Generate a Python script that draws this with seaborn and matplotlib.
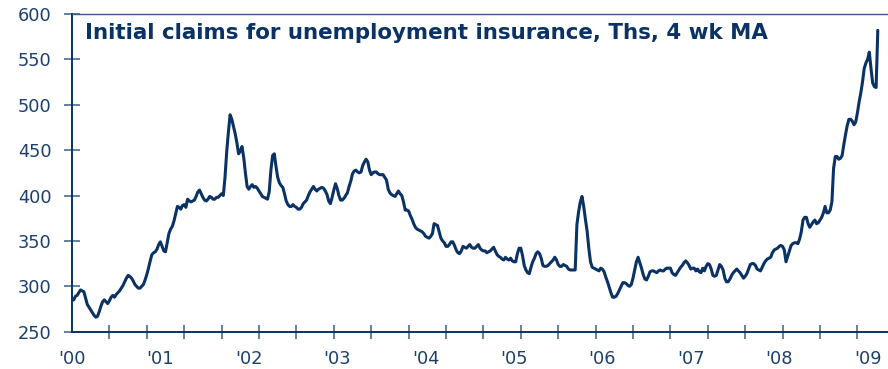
import numpy as np
import pandas as pd
import seaborn as sns
import matplotlib.pyplot as plt
from matplotlib.ticker import FixedLocator

# Initial jobless claims, thousands, 4-week moving average, weekly from Jan 2000
y2000 = [285, 285, 289, 290, 293, 296, 295, 294, 287, 280, 277, 274, 271,
         268, 266, 267, 272, 278, 283, 285, 283, 281, 284, 288, 290, 288,
         291, 293, 295, 298, 301, 305, 309, 312, 311, 309, 306, 302, 300,
         298, 298, 300, 302, 307, 313, 320, 328, 335, 337, 338, 341, 346]
y2001 = [349, 344, 339, 338, 348, 358, 363, 366, 372, 380, 388, 387, 385,
         389, 390, 387, 396, 394, 393, 394, 395, 399, 404, 406, 402, 398,
         395, 394, 396, 399, 398, 396, 396, 398, 398, 400, 402, 400, 420,
         448, 470, 489, 484, 476, 468, 458, 446, 449, 454, 442, 425, 410]
y2002 = [407, 410, 412, 409, 410, 408, 405, 402, 399, 398, 397, 396, 404,
         428, 444, 446, 432, 420, 414, 411, 409, 402, 394, 390, 388, 388,
         390, 388, 387, 385, 385, 387, 391, 393, 395, 400, 404, 407, 410,
         407, 405, 407, 408, 409, 408, 405, 401, 394, 391, 398, 406, 413]
y2003 = [408, 400, 395, 395, 397, 400, 403, 410, 416, 424, 427, 428, 426,
         425, 426, 433, 437, 440, 437, 428, 423, 425, 426, 426, 424, 423,
         423, 423, 420, 417, 407, 403, 401, 400, 399, 402, 405, 402, 400,
         393, 384, 384, 383, 378, 374, 369, 365, 363, 362, 361, 360, 358]
y2004 = [355, 354, 353, 355, 358, 369, 368, 367, 360, 353, 350, 348, 344,
         344, 346, 349, 349, 345, 340, 337, 336, 339, 344, 343, 342, 344,
         346, 343, 342, 342, 344, 346, 342, 340, 339, 339, 337, 338, 339,
         341, 343, 339, 335, 333, 332, 330, 329, 332, 330, 329, 331, 328]
y2005 = [327, 327, 336, 342, 342, 334, 323, 318, 315, 314, 321, 327, 331,
         336, 338, 336, 331, 323, 322, 322, 323, 325, 327, 329, 332, 329,
         324, 322, 322, 324, 323, 322, 319, 318, 318, 318, 318, 368, 382,
         393, 399, 388, 374, 361, 342, 327, 321, 320, 319, 318, 317, 320]
y2006 = [319, 316, 310, 305, 299, 293, 288, 288, 289, 292, 296, 300, 304,
         304, 303, 301, 300, 302, 309, 318, 327, 332, 326, 320, 313, 308,
         307, 311, 316, 317, 317, 316, 315, 317, 318, 317, 317, 319, 320,
         320, 320, 315, 313, 312, 315, 318, 321, 323, 326, 328, 326, 323]
y2007 = [319, 320, 320, 317, 319, 316, 315, 320, 317, 322, 325, 324, 319,
         312, 311, 312, 318, 324, 322, 318, 309, 305, 305, 308, 312, 315,
         317, 319, 317, 315, 312, 309, 311, 314, 319, 324, 325, 325, 323,
         319, 318, 317, 321, 325, 328, 330, 331, 332, 337, 340, 341, 342]
y2008 = [344, 345, 344, 340, 327, 333, 339, 345, 347, 348, 348, 347, 352,
         360, 373, 376, 376, 369, 365, 368, 371, 373, 369, 370, 373, 376,
         381, 388, 381, 381, 384, 393, 430, 443, 443, 440, 441, 444, 456,
         467, 477, 484, 484, 482, 478, 481, 491, 503, 513, 525, 540, 546]
y2009 = [550, 558, 540, 524, 520, 519, 582]

year_labels = ["'00", "'01", "'02", "'03", "'04", "'05", "'06", "'07", "'08", "'09"]
y_ticks = [250, 300, 350, 400, 450, 500, 550, 600]

claims = y2000 + y2001 + y2002 + y2003 + y2004 + y2005 + y2006 + y2007 + y2008 + y2009
df = pd.DataFrame({'week': np.arange(len(claims)), 'claims': claims})

navy = '#0b3264'
text_col = '#1d3f6e'
tick_col = '#4f6a8f'

sns.set_style('white')
fig = plt.figure(figsize=(8.88, 3.69), dpi=100)
ax = fig.add_axes([72 / 888, 37.3 / 369, 816 / 888, 317.7 / 369])

sns.lineplot(data=df, x='week', y='claims', color=navy, linewidth=2.2, ax=ax)

ax.set_xlim(0, 480)
ax.set_ylim(250, 600)
ax.set_xlabel('')
ax.set_ylabel('')

# year labels without marks, tick marks every 22 weeks
ax.set_xticks([52 * i for i in range(len(year_labels))])
ax.set_xticklabels(year_labels)
ax.xaxis.set_minor_locator(FixedLocator(np.arange(0, 480, 22)))
ax.tick_params(axis='x', which='both', bottom=True)
ax.tick_params(axis='x', which='major', length=0, pad=13, labelsize=12.8, labelcolor=text_col)
ax.tick_params(axis='x', which='minor', direction='inout', length=10, width=1.2, color=tick_col)

ax.set_yticks(y_ticks)
ax.tick_params(axis='y', left=True, direction='inout', length=11, width=1.2, color=tick_col,
               pad=9, labelsize=12.8, labelcolor=text_col)

for side in ['left', 'bottom']:
    ax.spines[side].set_color(navy)
    ax.spines[side].set_linewidth(1.4)
ax.spines['top'].set_color('#3e5a82')
ax.spines['top'].set_linewidth(1.0)
ax.spines['right'].set_visible(False)

ax.text(0.016, 0.92, 'Initial claims for unemployment insurance, Ths, 4 wk MA',
        transform=ax.transAxes, fontsize=15.4, fontweight='bold', color=navy,
        va='baseline', ha='left')

fig.savefig('out.png', dpi=100)
